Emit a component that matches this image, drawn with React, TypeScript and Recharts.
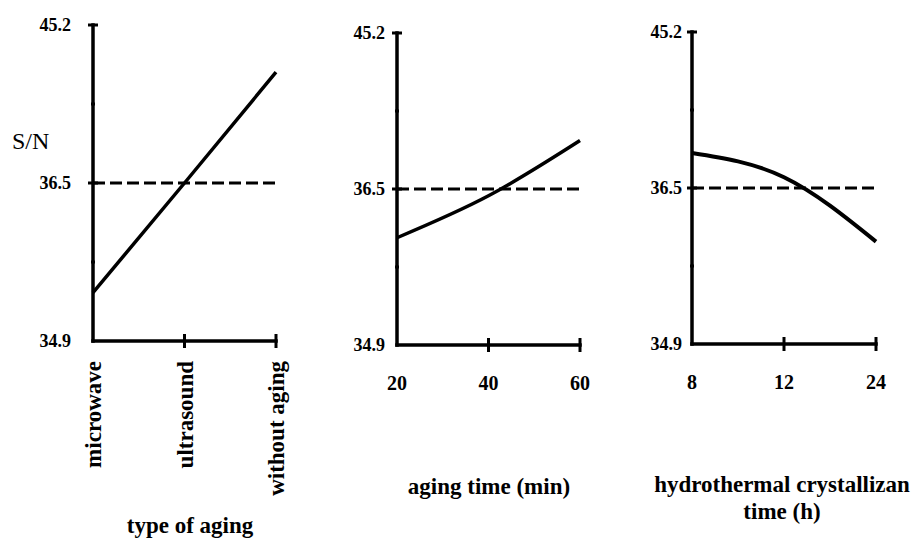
import React from 'react'
import { LineChart, Line, XAxis, YAxis, ReferenceLine } from 'recharts'

// S/N axis is drawn with even spacing between the labelled values
const yBreaks = [34.9, 36.5, 45.2]
const yTicks = [0, 1, 2, 3, 4]
const meanSN = 36.5

const agingTypes = ['microwave', 'ultrasound', 'without aging']
const snAgingType = [35.39, 36.5, 42.6]

const agingTimes = [20, 40, 60]
const snAgingTime = [36.0, 36.43, 39.2]

const crystTimes = ['8', '12', '24']
const snCrystTime = [38.45, 37.1, 35.95]

const FONT = '"Liberation Serif", "Times New Roman", serif'

// piecewise position on the S/N axis (2 units per labelled segment)
const toPos = (v: number) =>
  v <= yBreaks[1]
    ? (2 * (v - yBreaks[0])) / (yBreaks[1] - yBreaks[0])
    : 2 + (2 * (v - yBreaks[1])) / (yBreaks[2] - yBreaks[1])

const typeData = agingTypes.map((c, i) => ({ c, sn: snAgingType[i] }))
const timeData = agingTimes.map((t, i) => ({ t, sn: snAgingTime[i] }))
const crystData = crystTimes.map((c, i) => ({ c, sn: snCrystTime[i] }))

const boldSvg = { fontFamily: FONT, fontWeight: 'bold', fill: '#000' }

function YTick(props: any) {
  const { x, y, payload, gap } = props
  const ax = x + gap
  const v = payload.value
  const label = v % 2 === 0 ? String(yBreaks[v / 2]) : ''
  const half = v % 2 === 0 ? 5 : 2
  return (
    <g>
      {v !== 0 && <line x1={ax - half} x2={ax + half} y1={y} y2={y} stroke="#000" strokeWidth={3} />}
      <text x={x} y={y} dy="0.35em" textAnchor="end" fontSize={18} {...boldSvg}>{label}</text>
    </g>
  )
}

function XTick(props: any) {
  const { x, y, payload, index, margin, rotate } = props
  const ay = y - margin
  return (
    <g>
      {index > 0 && <line x1={x} x2={x} y1={ay - 7} y2={ay + 7} stroke="#000" strokeWidth={3} />}
      {rotate ? (
        <text x={x} y={ay + 20} dy="0.35em" textAnchor="end" transform={`rotate(-90, ${x}, ${ay + 20})`}
          fontSize={23} {...boldSvg}>{payload.value}</text>
      ) : (
        <text x={x} y={ay + 45} textAnchor="middle" fontSize={20} {...boldSvg}>{payload.value}</text>
      )}
    </g>
  )
}

const axisLine = { stroke: '#000', strokeWidth: 3.5, strokeLinecap: 'square' as const }

const titleStyle: React.CSSProperties = {
  position: 'absolute', width: 300, textAlign: 'center', fontFamily: FONT, fontWeight: 'bold',
  fontSize: 23, lineHeight: '27px', color: '#000', whiteSpace: 'nowrap',
}

export default function App() {
  return (
    <div style={{ position: 'absolute', left: 0, top: 0, width: 917, height: 540, background: '#fff', overflow: 'hidden' }}>
      <div style={{ position: 'absolute', left: 0, top: 0 }}>
        <LineChart width={300} height={540} data={typeData} margin={{ top: 25, right: 24, bottom: 0, left: 0 }}>
          <XAxis dataKey="c" type="category" height={199} axisLine={axisLine} tickLine={false} tickSize={0} tickMargin={10}
            interval={0} tick={(p: any) => <XTick {...p} margin={10} rotate />} />
          <YAxis type="number" domain={[0, 4]} ticks={yTicks} interval={0} width={93} axisLine={axisLine}
            tickLine={false} tickSize={0} tickMargin={22} tick={(p: any) => <YTick {...p} gap={22} />} />
          <ReferenceLine y={toPos(meanSN)} stroke="#000" strokeWidth={3} strokeDasharray="12 5" />
          <Line dataKey={(d: any) => toPos(d.sn)} type="linear" stroke="#000" strokeWidth={3.5} dot={false} isAnimationActive={false} />
        </LineChart>
      </div>

      <div style={{ position: 'absolute', left: 300, top: 0 }}>
        <LineChart width={310} height={540} data={timeData} margin={{ top: 33, right: 30, bottom: 0, left: 0 }}>
          <XAxis dataKey="t" type="number" domain={[20, 60]} ticks={agingTimes} height={195} axisLine={axisLine}
            tickLine={false} tickSize={0} tickMargin={10} interval={0} tick={(p: any) => <XTick {...p} margin={10} />} />
          <YAxis type="number" domain={[0, 4]} ticks={yTicks} interval={0} width={97} axisLine={axisLine}
            tickLine={false} tickSize={0} tickMargin={12} tick={(p: any) => <YTick {...p} gap={12} />} />
          <ReferenceLine y={toPos(meanSN)} stroke="#000" strokeWidth={3} strokeDasharray="12 5" />
          <Line dataKey={(d: any) => toPos(d.sn)} type="monotone" stroke="#000" strokeWidth={3.5} dot={false} isAnimationActive={false} />
        </LineChart>
      </div>

      <div style={{ position: 'absolute', left: 610, top: 0 }}>
        <LineChart width={307} height={540} data={crystData} margin={{ top: 32, right: 41, bottom: 0, left: 0 }}>
          <XAxis dataKey="c" type="category" height={196} axisLine={axisLine} tickLine={false} tickSize={0} tickMargin={10}
            interval={0} tick={(p: any) => <XTick {...p} margin={10} />} />
          <YAxis type="number" domain={[0, 4]} ticks={yTicks} interval={0} width={82} axisLine={axisLine}
            tickLine={false} tickSize={0} tickMargin={10} tick={(p: any) => <YTick {...p} gap={10} />} />
          <ReferenceLine y={toPos(meanSN)} stroke="#000" strokeWidth={3} strokeDasharray="12 5" />
          <Line dataKey={(d: any) => toPos(d.sn)} type="monotone" stroke="#000" strokeWidth={4} dot={false} isAnimationActive={false} />
        </LineChart>
      </div>

      <div style={{ position: 'absolute', left: 12, top: 129, fontFamily: FONT, fontSize: 24, lineHeight: '24px', color: '#000' }}>S/N</div>
      <div style={{ ...titleStyle, left: 190 - 150, top: 512 }}>type of aging</div>
      <div style={{ ...titleStyle, left: 489 - 150, top: 473 }}>aging time (min)</div>
      <div style={{ ...titleStyle, left: 782 - 150, top: 471 }}>hydrothermal crystallizan<br />time (h)</div>
    </div>
  )
}
